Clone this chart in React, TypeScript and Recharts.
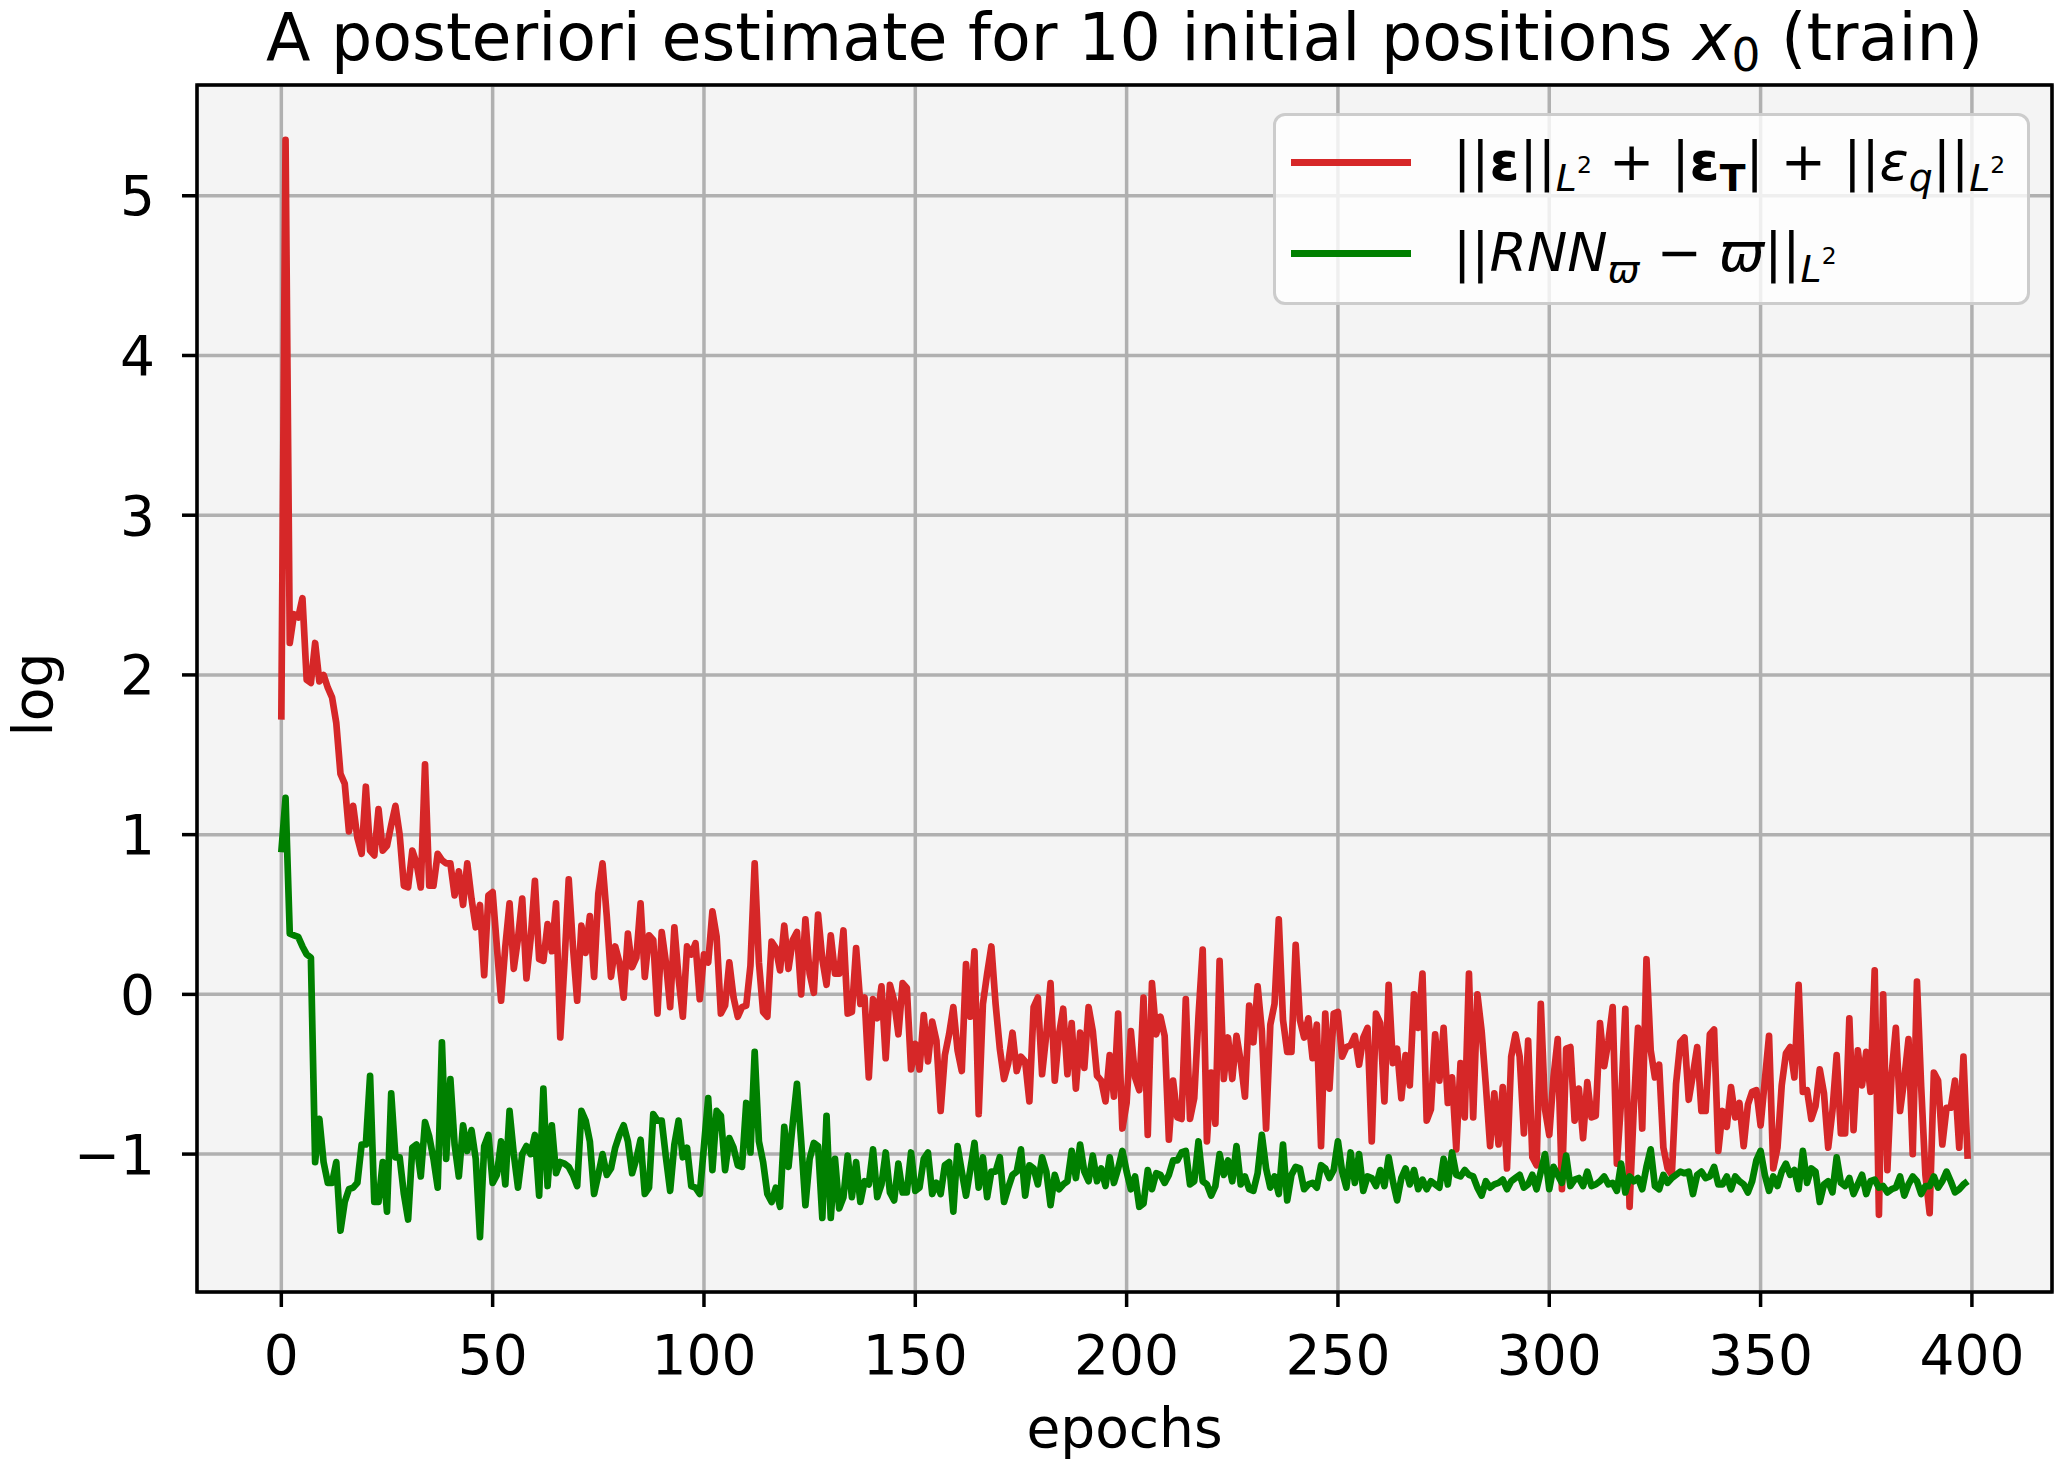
import { CartesianGrid, Legend, Line, LineChart, ReferenceArea, XAxis, YAxis } from 'recharts';

// epochs 0..399
const epochs = Array.from({ length: 400 }, (_, i) => i);

// ||eps||_L2 + |eps_T| + ||eps_q||_L2  (log)
const aPosterioriLoss = [
  1.72, 5.35, 2.2, 2.38, 2.36, 2.48, 1.97, 1.95, 2.2, 1.96,
  2.0, 1.92, 1.86, 1.7, 1.38, 1.32, 1.02, 1.18, 0.98, 0.88,
  1.3, 0.9, 0.87, 1.16, 0.9, 0.93, 1.06, 1.18, 1.0, 0.68,
  0.67, 0.9, 0.82, 0.67, 1.44, 0.68, 0.68, 0.88, 0.84, 0.82,
  0.82, 0.62, 0.77, 0.56, 0.82, 0.6, 0.42, 0.56, 0.12, 0.62,
  0.64, 0.3, -0.04, 0.3, 0.57, 0.16, 0.35, 0.6, 0.1, 0.35,
  0.71, 0.22, 0.21, 0.44, 0.27, 0.57, -0.27, 0.2, 0.72, 0.3,
  -0.04, 0.43, 0.26, 0.49, 0.11, 0.63, 0.82, 0.49, 0.11, 0.3,
  0.2, -0.02, 0.38, 0.17, 0.23, 0.57, 0.11, 0.37, 0.34, -0.12,
  0.39, 0.2, -0.08, 0.42, 0.1, -0.14, 0.3, 0.25, 0.32, -0.03,
  0.25, 0.2, 0.52, 0.36, -0.12, -0.07, 0.2, -0.02, -0.14, -0.08,
  -0.07, 0.18, 0.82, 0.2, -0.11, -0.14, 0.33, 0.29, 0.15, 0.43,
  0.16, 0.34, 0.39, 0.0, 0.47, 0.13, 0.01, 0.5, 0.22, 0.06,
  0.37, 0.13, 0.13, 0.4, -0.12, -0.11, 0.29, -0.06, -0.02, -0.52,
  -0.03, -0.15, 0.05, -0.4, 0.06, -0.04, -0.25, 0.07, 0.04, -0.47,
  -0.31, -0.47, -0.13, -0.42, -0.17, -0.29, -0.73, -0.38, -0.25, -0.08,
  -0.35, -0.48, 0.19, -0.14, 0.27, -0.75, -0.06, 0.13, 0.3, -0.06,
  -0.34, -0.53, -0.43, -0.24, -0.48, -0.39, -0.42, -0.67, -0.08, -0.02,
  -0.5, -0.25, 0.07, -0.54, -0.25, -0.09, -0.5, -0.18, -0.59, -0.24,
  -0.46, -0.08, -0.23, -0.51, -0.54, -0.67, -0.38, -0.64, -0.12, -0.84,
  -0.68, -0.23, -0.52, -0.6, -0.02, -0.88, 0.07, -0.25, -0.14, -0.26,
  -0.91, -0.54, -0.77, -0.78, -0.03, -0.78, -0.65, -0.14, 0.28, -0.92,
  -0.49, -0.81, 0.21, -0.53, -0.27, -0.53, -0.26, -0.42, -0.64, -0.07,
  -0.3, 0.05, -0.23, -0.84, -0.19, -0.06, 0.47, -0.16, -0.36, -0.36,
  0.31, -0.16, -0.27, -0.15, -0.4, -0.19, -0.95, -0.12, -0.59, -0.12,
  -0.11, -0.39, -0.33, -0.32, -0.26, -0.44, -0.27, -0.21, -0.92, -0.12,
  -0.18, -0.67, 0.06, -0.43, -0.34, -0.65, -0.38, -0.57, 0.0, -0.21,
  0.13, -0.79, -0.72, -0.25, -0.54, -0.21, -0.68, -0.52, -0.97, -0.43,
  -0.77, 0.13, -0.77, 0.0, -0.23, -0.57, -0.95, -0.62, -0.94, -0.58,
  -1.09, -0.39, -0.25, -0.39, -0.87, -0.29, -1.02, -1.07, -0.06, -0.72,
  -0.88, -0.52, -0.28, -1.22, -0.34, -0.33, -0.79, -0.59, -0.9, -0.55,
  -0.77, -0.76, -0.18, -0.45, -0.29, -0.08, -1.06, -0.67, -0.09, -1.33,
  -0.71, -0.21, -0.84, 0.22, -0.35, -0.52, -0.44, -0.96, -1.09, -1.13,
  -0.56, -0.3, -0.27, -0.66, -0.5, -0.33, -0.73, -0.73, -0.25, -0.22,
  -0.98, -0.73, -0.83, -0.58, -0.77, -0.68, -0.95, -0.69, -0.61, -0.6,
  -0.82, -0.54, -0.26, -1.09, -0.96, -0.57, -0.37, -0.33, -0.52, 0.06,
  -0.61, -0.6, -0.78, -0.7, -0.47, -0.62, -0.96, -0.73, -0.38, -0.87,
  -0.87, -0.15, -0.85, -0.35, -0.57, -0.36, -0.61, 0.15, -1.38, 0.0,
  -1.1, -0.5, -0.21, -0.73, -0.53, -0.28, -1.0, 0.08, -0.58, -1.13,
  -1.37, -0.49, -0.54, -0.94, -0.71, -0.71, -0.54, -0.96, -0.39, -1.03,
];

// ||RNN_w - w||_L2  (log)
const rnnLoss = [
  0.89, 1.23, 0.38, 0.37, 0.36, 0.3, 0.25, 0.23, -1.05, -0.78,
  -1.05, -1.18, -1.18, -1.05, -1.48, -1.3, -1.22, -1.21, -1.18, -0.94,
  -0.94, -0.51, -1.3, -1.3, -1.05, -1.36, -0.62, -1.02, -1.02, -1.25,
  -1.41, -0.96, -0.94, -1.14, -0.8, -0.89, -1.03, -1.21, -0.3, -1.03,
  -0.53, -0.94, -1.14, -0.82, -0.98, -0.85, -1.03, -1.52, -0.95, -0.88,
  -1.18, -1.13, -0.92, -1.19, -0.73, -1.0, -1.21, -1.0, -0.95, -1.0,
  -0.88, -1.26, -0.59, -1.2, -0.82, -1.12, -1.05, -1.06, -1.08, -1.13,
  -1.2, -0.73, -0.79, -0.92, -1.25, -1.13, -1.0, -1.13, -1.09, -0.96,
  -0.88, -0.82, -0.92, -1.12, -1.03, -0.91, -1.25, -1.21, -0.75, -0.79,
  -0.79, -1.02, -1.23, -0.94, -0.79, -1.02, -0.96, -1.2, -1.21, -1.25,
  -0.95, -0.65, -1.1, -0.73, -0.76, -1.1, -0.9, -0.96, -1.07, -1.08,
  -0.68, -0.99, -0.36, -0.92, -1.05, -1.25, -1.3, -1.21, -1.33, -0.83,
  -1.08, -0.81, -0.56, -0.92, -1.32, -1.03, -0.93, -0.95, -1.4, -0.76,
  -1.4, -1.03, -1.34, -1.27, -1.01, -1.27, -1.05, -1.3, -1.17, -1.19,
  -0.97, -1.27, -1.19, -0.99, -1.24, -1.29, -1.06, -1.24, -1.24, -0.99,
  -1.23, -1.21, -1.03, -0.99, -1.25, -1.18, -1.25, -1.07, -1.05, -1.36,
  -0.95, -1.11, -1.26, -1.1, -0.93, -1.21, -1.02, -1.27, -1.11, -1.11,
  -1.02, -1.3, -1.21, -1.13, -1.11, -0.97, -1.26, -1.07, -1.09, -1.19,
  -1.02, -1.11, -1.32, -1.13, -1.22, -1.19, -1.17, -0.98, -1.15, -0.94,
  -1.11, -1.17, -1.01, -1.17, -1.09, -1.2, -1.02, -1.18, -1.09, -0.98,
  -1.11, -1.22, -1.14, -1.33, -1.31, -1.1, -1.22, -1.12, -1.13, -1.18,
  -1.13, -1.04, -1.04, -0.99, -0.98, -1.19, -1.17, -0.92, -1.17, -1.19,
  -1.26, -1.2, -1.0, -1.13, -1.04, -1.17, -0.95, -1.19, -1.14, -1.22,
  -1.23, -1.12, -0.88, -1.09, -1.21, -1.14, -1.25, -0.94, -1.29, -1.13,
  -1.08, -1.09, -1.22, -1.19, -1.18, -1.21, -1.07, -1.09, -1.15, -1.1,
  -0.92, -1.11, -1.21, -0.99, -1.18, -1.0, -1.23, -1.14, -1.15, -1.2,
  -1.1, -1.2, -1.02, -1.17, -1.29, -1.15, -1.09, -1.19, -1.1, -1.22,
  -1.16, -1.22, -1.17, -1.19, -1.21, -1.03, -1.19, -0.99, -1.13, -1.14,
  -1.1, -1.13, -1.14, -1.21, -1.26, -1.17, -1.21, -1.19, -1.18, -1.16,
  -1.22, -1.17, -1.15, -1.13, -1.21, -1.19, -1.13, -1.22, -1.11, -1.0,
  -1.22, -1.08, -1.13, -1.18, -1.01, -1.2, -1.16, -1.15, -1.2, -1.11,
  -1.2, -1.19, -1.17, -1.14, -1.19, -1.18, -1.23, -1.06, -1.24, -1.14,
  -1.17, -1.15, -1.22, -1.08, -0.97, -1.2, -1.22, -1.13, -1.18, -1.15,
  -1.13, -1.11, -1.12, -1.11, -1.25, -1.13, -1.11, -1.15, -1.14, -1.08,
  -1.19, -1.19, -1.14, -1.22, -1.14, -1.17, -1.19, -1.24, -1.17, -1.04,
  -0.98, -1.13, -1.23, -1.14, -1.2, -1.11, -1.06, -1.13, -1.1, -1.22,
  -0.98, -1.18, -1.09, -1.11, -1.3, -1.19, -1.17, -1.24, -1.02, -1.18,
  -1.2, -1.15, -1.25, -1.19, -1.13, -1.25, -1.17, -1.16, -1.21, -1.2,
  -1.24, -1.22, -1.21, -1.14, -1.26, -1.19, -1.14, -1.17, -1.25, -1.2,
  -1.2, -1.14, -1.21, -1.17, -1.11, -1.17, -1.24, -1.22, -1.19, -1.17,
];

const xTicks = [0, 50, 100, 150, 200, 250, 300, 350, 400];
const yTicks = [-1, 0, 1, 2, 3, 4, 5];

const data = epochs.map((epoch, i) => ({
  epoch,
  total: aPosterioriLoss[i],
  rnn: rnnLoss[i],
}));

// matplotlib-like 5% margins
const xDomain = [-19.95, 418.95];
const yDomain = [-1.8635, 5.6935];

const FONT = "'DejaVu Sans', sans-serif";
const FS = 55;

const small = { fontSize: '0.7em', verticalAlign: '-0.3em' };
const tiny = { fontSize: '0.62em', verticalAlign: '0.75em' };

const L2 = () => (
  <span style={small}>
    <i>L</i>
    <span style={tiny}>2</span>
  </span>
);

const legendLabels: Record<string, any> = {
  total: (
    <>
      ||<b>ε</b>||<L2 /> + |<b>ε</b>
      <b style={small}>T</b>| + ||<i>ε</i>
      <i style={small}>q</i>||<L2 />
    </>
  ),
  rnn: (
    <>
      ||<i>RNN</i>
      <i style={small}>ϖ</i> − <i>ϖ</i>||<L2 />
    </>
  ),
};

function LegendBox({ payload }: any) {
  return (
    <div
      style={{
        width: 757,
        height: 192,
        boxSizing: 'border-box',
        border: '3.5px solid #cccccc',
        borderRadius: 12,
        background: 'rgba(255,255,255,0.8)',
        position: 'relative',
        fontFamily: FONT,
        fontSize: 54,
        color: '#000',
      }}
    >
      {(payload || []).map((entry: any, i: number) => (
        <div key={entry.dataKey} style={{ position: 'absolute', left: 0, top: 14 + i * 91, height: 64, width: '100%' }}>
          <div style={{ position: 'absolute', left: 15, top: 29, width: 120, height: 6.7, background: entry.color }} />
          <div style={{ position: 'absolute', left: 177, top: 0, lineHeight: '64px', whiteSpace: 'nowrap' }}>
            {legendLabels[entry.dataKey]}
          </div>
        </div>
      ))}
    </div>
  );
}

const YLabel = ({ viewBox }: any) => {
  const cy = viewBox.y + viewBox.height / 2 + 6;
  return (
    <text x={52} y={cy} transform={`rotate(-90, 52, ${cy})`} textAnchor='middle' fontSize={FS} fontFamily={FONT} fill='#000'>
      log
    </text>
  );
};

const XLabel = ({ viewBox }: any) => (
  <text x={viewBox.x + viewBox.width / 2} y={1447} textAnchor='middle' fontSize={FS} fontFamily={FONT} fill='#000'>
    epochs
  </text>
);

export default function App() {
  return (
    <div style={{ position: 'absolute', left: 0, top: 0, width: 2056, height: 1462, background: '#fff' }}>
      <div
        style={{
          position: 'absolute',
          left: 197,
          width: 1855,
          top: 0,
          textAlign: 'center',
          fontFamily: FONT,
          fontSize: 65,
          lineHeight: '76px',
          whiteSpace: 'nowrap',
          color: '#000',
        }}
      >
        A posteriori estimate for 10 initial positions <i>x</i>
        <span style={{ fontSize: '0.7em', verticalAlign: '-0.25em' }}>0</span> (train)
      </div>
      <LineChart width={2056} height={1462} data={data} margin={{ top: 85, right: 4, bottom: 0, left: 0 }}>
        <CartesianGrid stroke='#b0b0b0' strokeWidth={3.5} fill='#f4f4f4' fillOpacity={1} />
        <XAxis
          dataKey='epoch'
          type='number'
          domain={xDomain}
          ticks={xTicks}
          interval={0}
          allowDataOverflow
          height={170}
          axisLine={false}
          tickSize={15}
          tickMargin={28}
          tickLine={{ stroke: '#000', strokeWidth: 3.5 }}
          tick={{ fill: '#000', fontSize: FS, fontFamily: FONT }}
          label={{ content: XLabel }}
        />
        <YAxis
          type='number'
          domain={yDomain}
          ticks={yTicks}
          interval={0}
          allowDataOverflow
          width={197}
          axisLine={false}
          tickSize={15}
          tickMargin={27}
          tickLine={{ stroke: '#000', strokeWidth: 3.5 }}
          tick={{ fill: '#000', fontSize: FS, fontFamily: FONT }}
          tickFormatter={(v) => (v < 0 ? `\u2212${Math.abs(v)}` : `${v}`)}
          label={{ content: YLabel }}
        />
        <Line
          dataKey='total'
          name='a posteriori'
          type='linear'
          stroke='#d62728'
          strokeWidth={6.7}
          strokeLinejoin='round'
          dot={false}
          isAnimationActive={false}
        />
        <Line
          dataKey='rnn'
          name='rnn'
          type='linear'
          stroke='#008000'
          strokeWidth={6.7}
          strokeLinejoin='round'
          dot={false}
          isAnimationActive={false}
        />
        <ReferenceArea
          x1={xDomain[0]}
          x2={xDomain[1]}
          y1={yDomain[0]}
          y2={yDomain[1]}
          fill='none'
          stroke='#000'
          strokeWidth={3.5}
          ifOverflow='visible'
        />
        <Legend
          verticalAlign='middle'
          align='center'
          layout='vertical'
          content={<LegendBox />}
          wrapperStyle={{ left: 1273, top: 113, width: 757, height: 192 }}
        />
      </LineChart>
    </div>
  );
}
